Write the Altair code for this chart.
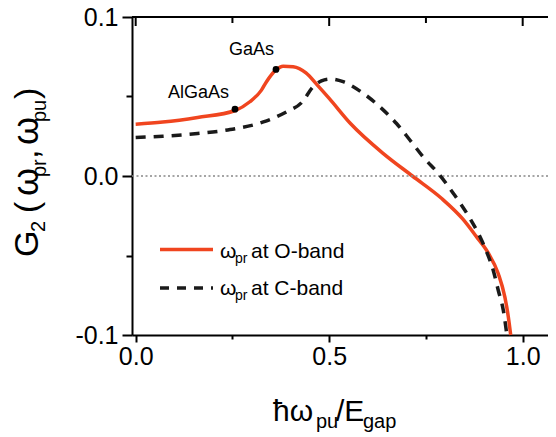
import altair as alt
import pandas as pd

# ---- data ----
red_x = [0.0, 0.07, 0.16, 0.257, 0.295, 0.325, 0.338, 0.362, 0.381, 0.407, 0.44, 0.47,
         0.50, 0.555, 0.64, 0.715, 0.79, 0.845, 0.88, 0.91, 0.937, 0.954, 0.963, 0.969]
red_y = [0.0326, 0.0339, 0.0368, 0.0412, 0.0467, 0.054, 0.0593, 0.0666, 0.0691, 0.0687, 0.0648, 0.057,
         0.0488, 0.033, 0.0141, 0.0, -0.014, -0.027, -0.038, -0.048, -0.0615, -0.0762, -0.0888, -0.1]

blk_x = [0.0, 0.07, 0.16, 0.244, 0.33, 0.39, 0.428, 0.46, 0.48, 0.502, 0.536, 0.588, 0.631,
         0.674, 0.709, 0.743, 0.786, 0.821, 0.86, 0.89, 0.907, 0.924, 0.937, 0.95, 0.957, 0.959]
blk_y = [0.0242, 0.025, 0.0267, 0.0292, 0.034, 0.0404, 0.046, 0.0565, 0.0598, 0.061, 0.0593, 0.052, 0.0435,
         0.033, 0.0225, 0.012, 0.0005, -0.011, -0.0252, -0.0384, -0.0478, -0.0594, -0.072, -0.0846, -0.0961, -0.1]

pt_x = [0.2566, 0.3625]
pt_y = [0.042, 0.067]
pt_label = ["AlGaAs", "GaAs"]

x_ticks = [0.0, 0.25, 0.5, 0.75, 1.0]
x_major = [0.0, 0.5, 1.0]
x_minor = [0.25, 0.75]
y_ticks = [-0.1, -0.05, 0.0, 0.05, 0.1]

# ---- styling ----
FONT = "Liberation Sans"
RED = "#F0451F"
BLK = "#1a1a1a"
W, H = 416, 318

xs = alt.Scale(domain=[-0.0095, 1.0654], nice=False, zero=False)
ys = alt.Scale(domain=[-0.1, 0.1], nice=False, zero=False)

red_df = pd.DataFrame({"x": red_x, "y": red_y})
blk_df = pd.DataFrame({"x": blk_x, "y": blk_y})
pt_df = pd.DataFrame({"x": pt_x, "y": pt_y, "label": pt_label})
one = pd.DataFrame({"k": [0]})

x_axis = alt.Axis(
    values=x_ticks, title=None, grid=False,
    labelExpr="(datum.value == 0.25 || datum.value == 0.75) ? '' : format(datum.value, '.1f')",
    tickSize={"condition": {"test": "datum.value == 0.25 || datum.value == 0.75", "value": 4}, "value": 7},
    labelPadding=2,
)
y_axis = alt.Axis(
    values=y_ticks, title=None, grid=False,
    labelExpr="(abs(datum.value) > 0.01 && abs(datum.value) < 0.09) ? '' : "
              "(datum.value < 0 ? '-' + format(abs(datum.value), '.1f') : format(datum.value, '.1f'))",
    tickSize={"condition": {"test": "abs(datum.value) > 0.01 && abs(datum.value) < 0.09", "value": 6}, "value": 10},
    labelPadding=4,
)

X = alt.X("x:Q", scale=xs)
Y = alt.Y("y:Q", scale=ys)

red_line = alt.Chart(red_df).mark_line(color=RED, strokeWidth=3.5, interpolate="monotone").encode(
    x=alt.X("x:Q", scale=xs, axis=x_axis),
    y=alt.Y("y:Q", scale=ys, axis=y_axis),
)
blk_line = alt.Chart(blk_df).mark_line(color=BLK, strokeWidth=3.5, strokeDash=[10, 8],
                                       interpolate="monotone").encode(x=X, y=Y)

zero_rule = alt.Chart(one).mark_rule(color="#888888", strokeWidth=1.6, strokeDash=[2, 2.5]).encode(
    y=alt.YDatum(0, scale=ys)
)
top_rule = alt.Chart(one).mark_rule(color="black", strokeWidth=2).encode(
    y=alt.YDatum(0.1, scale=ys)
)

tick_df = pd.DataFrame({"x": x_ticks})
top_major = alt.Chart(tick_df).transform_filter(
    alt.FieldOneOfPredicate(field="x", oneOf=x_major)
).mark_rule(color="black", strokeWidth=2).encode(
    x=X, y=alt.YDatum(0.1, scale=ys), y2=alt.value(9),
)
top_minor = alt.Chart(tick_df).transform_filter(
    alt.FieldOneOfPredicate(field="x", oneOf=x_minor)
).mark_rule(color="black", strokeWidth=2).encode(
    x=X, y=alt.YDatum(0.1, scale=ys), y2=alt.value(6),
)

points = alt.Chart(pt_df).mark_circle(size=45, color="black", opacity=1).encode(x=X, y=Y)
lab_al = alt.Chart(pt_df).transform_filter(alt.datum.label == "AlGaAs").mark_text(
    font=FONT, fontSize=18, color="black", align="right", baseline="alphabetic", dx=-6, dy=-11
).encode(x=X, y=Y, text="label:N")
lab_ga = alt.Chart(pt_df).transform_filter(alt.datum.label == "GaAs").mark_text(
    font=FONT, fontSize=18, color="black", align="right", baseline="alphabetic", dx=-2, dy=-14
).encode(x=X, y=Y, text="label:N")


def txt(s, x, y, size, angle=0):
    return alt.Chart(one).mark_text(
        text=s, font=FONT, fontSize=size, angle=angle, align="left", baseline="alphabetic", color="black"
    ).encode(x=alt.value(x), y=alt.value(y))


# y title: G2 (w_pr, w_pu), rotated
ytitle = [
    txt("G", -94, 240, 34, 270),
    txt("2", -87, 215, 20, 270),
    txt("(", -94, 196, 34, 270),
    txt("ω", -94, 179, 36, 270),
    txt("pr", -86, 160, 20, 270),
    txt(",", -94, 142, 34, 270),
    txt("ω", -94, 128, 36, 270),
    txt("pu", -86, 105, 20, 270),
    txt(")", -94, 82, 34, 270),
]
# x title: hbar w_pu / E_gap
xtitle = [
    txt("ħω", 141, 404, 30),
    txt("pu", 184, 411, 20),
    txt("/E", 204, 404, 30),
    txt("gap", 231, 411, 20),
]

# legend
leg_red = alt.Chart(one).mark_rule(color=RED, strokeWidth=3.5).encode(
    x=alt.value(28), x2=alt.value(81), y=alt.value(232.5))
leg_blk = alt.Chart(one).mark_rule(color=BLK, strokeWidth=3.5, strokeDash=[9, 8]).encode(
    x=alt.value(28), x2=alt.value(81), y=alt.value(271))
legend = [
    leg_red, leg_blk,
    txt("ω", 88, 241, 21), txt("pr", 103, 246, 14), txt("at O-band", 119, 241, 21),
    txt("ω", 88, 278, 21), txt("pr", 103, 283, 14), txt("at C-band", 119, 278, 21),
]

chart = alt.layer(
    red_line, zero_rule, blk_line, top_rule, top_major, top_minor, points, lab_al, lab_ga,
    *ytitle, *xtitle, *legend
).properties(
    width=W, height=H,
    autosize=alt.AutoSizeParams(type="none"),
    padding={"left": 124, "top": 9, "right": 0, "bottom": 100},
    background="white",
).configure_view(stroke=None).configure_axis(
    labelFontSize=25, labelFont=FONT, labelColor="black",
    domainColor="black", domainWidth=2, tickColor="black", tickWidth=2,
    labelFlush=False, labelOverlap=False, grid=False,
)

chart.save("out.html", embed_options={"renderer": "svg", "actions": False})
